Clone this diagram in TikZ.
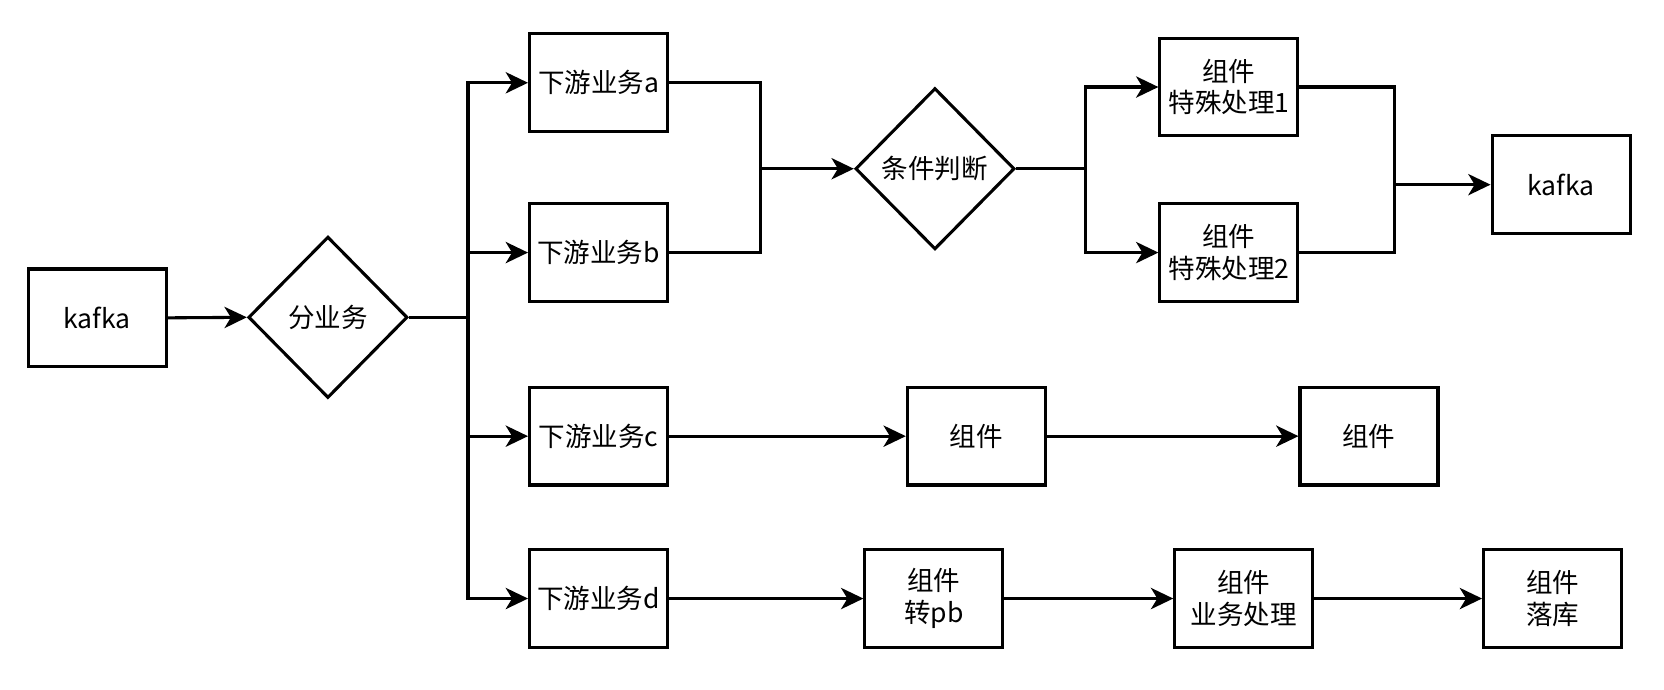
\documentclass[tikz,border=0pt]{standalone}
\usepackage{fontspec}
\setmainfont{Noto Sans CJK SC}
\usetikzlibrary{shapes.geometric,arrows.meta}
\tikzset{
  box/.style={draw, line width=2.9pt, minimum width=130pt, minimum height=92pt, inner sep=0pt, align=center, font=\fontsize{25}{30}\selectfont},
  dia/.style={draw, diamond, line width=2.9pt, minimum width=150pt, minimum height=152pt, inner sep=0pt, align=center, font=\fontsize{25}{30}\selectfont},
  conn/.style={line width=2.9pt},
  arr/.style={conn, -{Stealth[length=21pt, width=20pt, inset=6pt]}}
}
\begin{document}
\begin{tikzpicture}[x=1pt, y=-1pt]
\useasboundingbox (0,0) rectangle (1568,650);
\node[box] (k1) at (91.5,299.5) {kafka};
\node[dia] (fen) at (309,299) {分业务};
\node[box] (a) at (564,78) {下游业务a};
\node[box] (b) at (564,238) {下游业务b};
\node[box] (c) at (564,411) {下游业务c};
\node[box] (d) at (564,564) {下游业务d};
\node[dia] (cond) at (881,159) {条件判断};
\node[box] (s1) at (1158,82) {组件\\特殊处理1};
\node[box] (s2) at (1158,238) {组件\\特殊处理2};
\node[box] (k2) at (1471,174) {kafka};
\node[box] (c1) at (920,411) {组件};
\node[box] (c2) at (1290,411) {组件};
\node[box] (pb) at (880,564) {组件\\转pb};
\node[box] (biz) at (1172,564) {组件\\业务处理};
\node[box] (db) at (1463,564) {组件\\落库};
\coordinate (bus) at (441,299);
\coordinate (m1) at (717,159);
\coordinate (j2) at (1023,159);
\coordinate (m2) at (1314,174);
\draw[arr] (k1.east) -- (fen.west);
\draw[arr] (fen.east) -- (bus) |- (a.west);
\draw[arr] (bus) |- (b.west);
\draw[arr] (bus) |- (c.west);
\draw[arr] (bus) |- (d.west);
\draw[conn] (a.east) -| (m1);
\draw[conn] (b.east) -| (m1);
\draw[arr] (m1) -- (cond.west);
\draw[arr] (cond.east) -- (j2) |- (s1.west);
\draw[arr] (j2) |- (s2.west);
\draw[conn] (s1.east) -| (m2);
\draw[conn] (s2.east) -| (m2);
\draw[arr] (m2) -- (k2.west);
\draw[arr] (c.east) -- (c1.west);
\draw[arr] (c1.east) -- (c2.west);
\draw[arr] (d.east) -- (pb.west);
\draw[arr] (pb.east) -- (biz.west);
\draw[arr] (biz.east) -- (db.west);
\end{tikzpicture}
\end{document}
